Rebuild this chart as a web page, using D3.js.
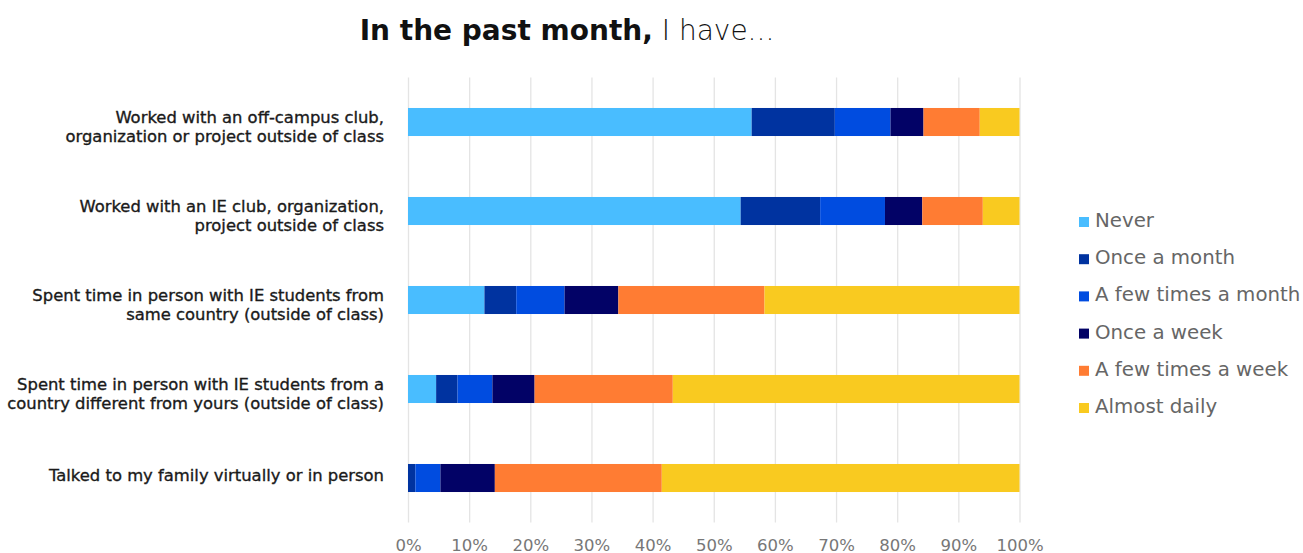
<!DOCTYPE html>
<html>
<head>
<meta charset="utf-8">
<script src="https://cdn.jsdelivr.net/npm/d3@7"></script>
<style>
  body { margin: 0; background: #fff; }
  svg { display: block; }
  text { font-family: "DejaVu Sans", sans-serif; }
</style>
</head>
<body>
<svg id="chart" width="1303" height="553"></svg>
<script>
// Survey items (one bar each), label lines split on "\n"
const categories = [
  "Worked with an off-campus club,\norganization or project outside of class",
  "Worked with an IE club, organization,\nproject outside of class",
  "Spent time in person with IE students from\nsame country (outside of class)",
  "Spent time in person with IE students from a\ncountry different from yours (outside of class)",
  "Talked to my family virtually or in person"
];

// Response options, in stacking order
const responses = ["Never", "Once a month", "A few times a month", "Once a week", "A few times a week", "Almost daily"];

// Share of respondents (%) per item for each response
const never          = [56.2, 54.4, 12.5,  4.6,  0.0];
const onceAMonth     = [13.6, 13.0,  5.2,  3.5,  1.2];
const fewTimesAMonth = [ 9.1, 10.6,  7.9,  5.7,  4.1];
const onceAWeek      = [ 5.4,  6.1,  8.8,  6.9,  8.9];
const fewTimesAWeek  = [ 9.2,  9.9, 23.9, 22.6, 27.3];
const almostDaily    = [ 6.5,  6.0, 41.7, 56.7, 58.5];

const tickValues = [0, 10, 20, 30, 40, 50, 60, 70, 80, 90, 100];
const colors = ["#49bdff", "#0033a0", "#004ce0", "#020266", "#ff7c33", "#f9ca20"];

const seriesValues = [never, onceAMonth, fewTimesAMonth, onceAWeek, fewTimesAWeek, almostDaily];
const rows = categories.map((c, i) => {
  const r = { category: c };
  responses.forEach((k, j) => { r[k] = seriesValues[j][i]; });
  return r;
});

const svg = d3.select("#chart");

const x = d3.scaleLinear().domain([0, 100]).range([408, 1019.5]);
const y = d3.scaleBand().domain(categories).range([77.5, 522.5])
  .paddingInner(0.685).paddingOuter(0.3425);
const color = d3.scaleOrdinal().domain(responses).range(colors);

// Title
const title = svg.append("text")
  .attr("x", 567).attr("y", 40)
  .attr("text-anchor", "middle")
  .attr("font-size", 28)
  .attr("fill", "#111");
title.append("tspan").attr("font-weight", 700).text("In the past month,");
title.append("tspan").attr("font-weight", 200).text(" I have...");

// Vertical gridlines + bottom tick labels
const xAxis = d3.axisBottom(x)
  .tickValues(tickValues)
  .tickFormat(d => d + "%")
  .tickSize(-(y.range()[1] - y.range()[0]))
  .tickPadding(0);

const gx = svg.append("g")
  .attr("transform", `translate(0,${y.range()[1]})`)
  .call(xAxis);
gx.select(".domain").remove();
gx.selectAll(".tick line").attr("stroke", "#e4e4e4").attr("stroke-width", 1.3);
gx.selectAll(".tick text")
  .attr("y", 28).attr("dy", null)
  .attr("font-size", 16.5)
  .attr("font-family", "DejaVu Sans, sans-serif")
  .attr("fill", "#777");

// Stacked bars
const stacked = d3.stack().keys(responses)(rows);
svg.append("g").selectAll("g")
  .data(stacked)
  .join("g")
  .attr("fill", d => color(d.key))
  .selectAll("rect")
  .data(d => d)
  .join("rect")
  .attr("x", d => x(d[0]))
  .attr("y", d => y(d.data.category))
  .attr("width", d => x(d[1]) - x(d[0]))
  .attr("height", y.bandwidth());

// Category labels, right aligned next to the bars
const lineH = 18.5;
svg.append("g").selectAll("text")
  .data(categories)
  .join("text")
  .attr("text-anchor", "end")
  .attr("font-size", 16.4)
  .attr("fill", "#1a1a1a")
  .attr("stroke", "#1a1a1a")
  .attr("stroke-width", 0.35)
  .each(function(d) {
    const lines = d.split("\n");
    const cy = y(d) + y.bandwidth() / 2;
    const first = lines.length > 1 ? cy + 1 : cy + 2.5;
    d3.select(this).selectAll("tspan")
      .data(lines)
      .join("tspan")
      .attr("x", 384)
      .attr("y", (l, i) => first + i * lineH)
      .text(l => l);
  });

// Legend
const legend = svg.append("g").attr("transform", "translate(1079,217)");
const item = legend.selectAll("g")
  .data(responses)
  .join("g")
  .attr("transform", (d, i) => `translate(0,${i * 37.2})`);
item.append("rect")
  .attr("width", 10).attr("height", 10)
  .attr("fill", d => color(d));
item.append("text")
  .attr("x", 16).attr("y", 10)
  .attr("font-size", 19.8)
  .attr("fill", "#666")
  .text(d => d);
</script>
</body>
</html>
